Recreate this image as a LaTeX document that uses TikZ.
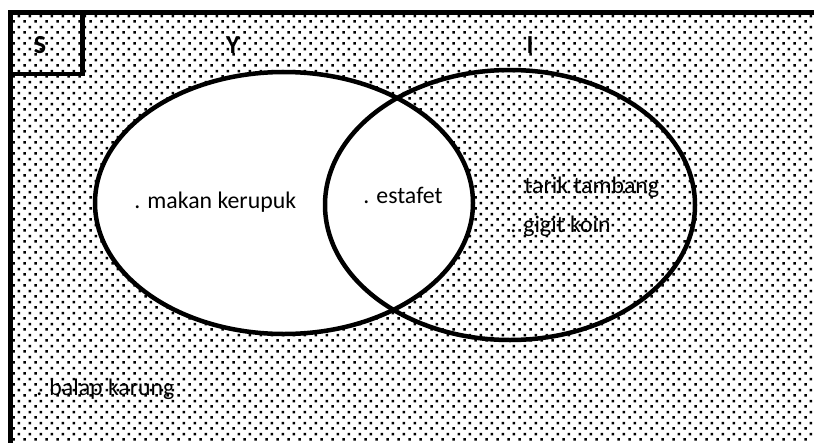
\documentclass[tikz,border=0pt]{standalone}
\usepackage{fontspec}
\setmainfont{Carlito}
\usetikzlibrary{patterns}
\pgfdeclarepatternformonly{vdots}{\pgfpointorigin}{\pgfpoint{10.7pt}{10.7pt}}{\pgfpoint{10.7pt}{10.7pt}}{%
  \pgfpathrectangle{\pgfpoint{1.5pt}{1.5pt}}{\pgfpoint{2.5pt}{2.4pt}}%
  \pgfpathrectangle{\pgfpoint{6.85pt}{6.85pt}}{\pgfpoint{2.5pt}{2.4pt}}%
  \pgfusepath{fill}}
\begin{document}
\begin{tikzpicture}[x=1pt,y=-1pt,line width=4.5pt,
  lbl/.style={anchor=base west,inner sep=0pt,font=\fontsize{23.8}{28}\selectfont},
  setlbl/.style={inner sep=0pt,font=\bfseries\fontsize{26}{30}\selectfont}]
\useasboundingbox (0,0) rectangle (814,442);
\clip (0,0) rectangle (814,442);
\fill[white] (0,0) rectangle (814,442);
\path[pattern=vdots] (10.5,12.5) rectangle (830,460);
\coordinate (tr) at (830,12.5);
\coordinate (tl) at (10.5,12.5);
\coordinate (bl) at (10.5,460);
\draw (tr) -- (tl) -- (bl);
\draw (tl) rectangle (82.5,74);
\fill[white] (284,203) ellipse [x radius=189pt,y radius=131pt];
\draw (284,203) ellipse [x radius=189pt,y radius=131pt];
\draw (510,205) ellipse [x radius=185pt,y radius=135pt];
\node[setlbl] (S) at (40,45) {S};
\node[setlbl] (Y) at (233,45) {Y};
\node[setlbl] (I) at (530,45) {I};
\node[lbl] (mk) at (132,208) {. makan kerupuk};
\node[lbl] (es) at (361,203) {. estafet};
\node[lbl] (tt) at (509,193) {. tarik tambang};
\node[lbl] (gk) at (508,232) {. gigit koin};
\node[lbl] (bk) at (34,395) {. balap karung};
\end{tikzpicture}
\end{document}
